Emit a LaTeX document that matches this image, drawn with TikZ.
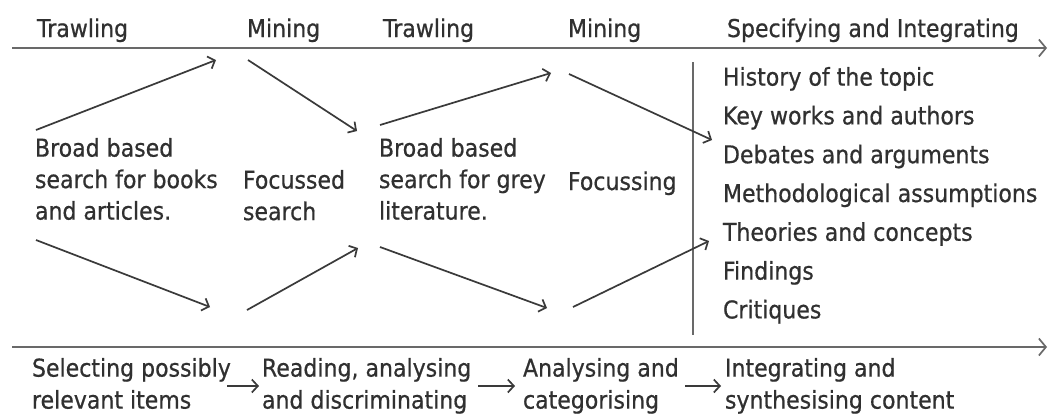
\documentclass[tikz,border=0pt]{standalone}
\usepackage{fontspec}
\setmainfont{DejaVu Sans}[FakeStretch=0.9,FakeBold=0.6]
\usetikzlibrary{arrows.meta}
\definecolor{ink}{RGB}{48,48,48}
\definecolor{axisgray}{RGB}{105,105,105}
\definecolor{arrowgray}{RGB}{58,58,58}
\newcommand{\topstrut}{\rule{0pt}{20pt}}

\begin{document}
\begin{tikzpicture}[x=1pt,y=-1pt,
  label/.style={inner sep=0pt, outer sep=0pt, text=ink, anchor=north west,
    align=left, font=\fontsize{24.5}{31.5}\selectfont,
    execute at begin node=\topstrut},
  listtext/.style={label, font=\fontsize{24.5}{38.8}\selectfont},
  bottomtext/.style={label, font=\fontsize{24.5}{32}\selectfont},
  axisline/.style={draw=axisgray, line width=2.8pt,
    -{Straight Barb[length=7pt,width=17pt,line width=1.7pt]}},
  flow/.style={draw=arrowgray, line width=1.7pt,
    -{Straight Barb[length=6pt,width=13pt]}},
  divider/.style={draw=axisgray, line width=1.6pt}
]
\useasboundingbox (0,0) rectangle (1051,416);
\fill[white] (0,0) rectangle (1051,416);

% stage headings above the upper axis
\node[label] (h1) at (37,17)  {Trawling};
\node[label] (h2) at (247,17) {Mining};
\node[label] (h3) at (383,17) {Trawling};
\node[label] (h4) at (568,17) {Mining};
\node[label] (h5) at (727,17) {Specifying and Integrating};

% axes
\coordinate (topL) at (12,48);
\coordinate (topR) at (1047,48);
\coordinate (botL) at (12,347);
\coordinate (botR) at (1047,347);
\draw[axisline] (topL) -- (topR);
\draw[axisline] (botL) -- (botR);

% search stages
\node[label] (s1) at (35,138)  {Broad based\\search for books\\and articles.};
\node[label] (s2) at (243,170) {Focussed\\search};
\node[label] (s3) at (379,138) {Broad based\\search for grey\\literature.};
\node[label] (s4) at (568,170) {Focussing};

% divider and outcome list
\coordinate (divT) at (693,62);
\coordinate (divB) at (693,335);
\draw[divider] (divT) -- (divB);
\node[listtext] (list) at (723,67) {History of the topic\\Key works and authors\\Debates and arguments\\Methodological assumptions\\Theories and concepts\\Findings\\Critiques};

% zig-zag arrows, upper row
\coordinate (u0) at (36,130);
\coordinate (u1) at (216,60);
\coordinate (u2) at (248,60);
\coordinate (u3) at (357,131);
\coordinate (u4) at (380,125);
\coordinate (u5) at (551,73);
\coordinate (u6) at (569,74);
\coordinate (u7) at (712,140);
\draw[flow] (u0) -- (u1);
\draw[flow] (u2) -- (u3);
\draw[flow] (u4) -- (u5);
\draw[flow] (u6) -- (u7);

% zig-zag arrows, lower row
\coordinate (l0) at (36,240);
\coordinate (l1) at (210,307);
\coordinate (l2) at (247,310);
\coordinate (l3) at (358,248);
\coordinate (l4) at (380,247);
\coordinate (l5) at (547,308);
\coordinate (l6) at (573,307);
\coordinate (l7) at (709,241);
\draw[flow] (l0) -- (l1);
\draw[flow] (l2) -- (l3);
\draw[flow] (l4) -- (l5);
\draw[flow] (l6) -- (l7);

% activities below the lower axis
\node[bottomtext] (b1) at (32,358)  {Selecting possibly\\relevant items};
\node[bottomtext] (b2) at (262,358) {Reading, analysing\\and discriminating};
\node[bottomtext] (b3) at (523,358) {Analysing and\\categorising};
\node[bottomtext] (b4) at (725,358) {Integrating and\\synthesising content};

\coordinate (a1s) at (227,386);
\coordinate (a1e) at (259,386);
\coordinate (a2s) at (478,386);
\coordinate (a2e) at (515,386);
\coordinate (a3s) at (685,386);
\coordinate (a3e) at (721,386);
\draw[flow] (a1s) -- (a1e);
\draw[flow] (a2s) -- (a2e);
\draw[flow] (a3s) -- (a3e);
\end{tikzpicture}
\end{document}
